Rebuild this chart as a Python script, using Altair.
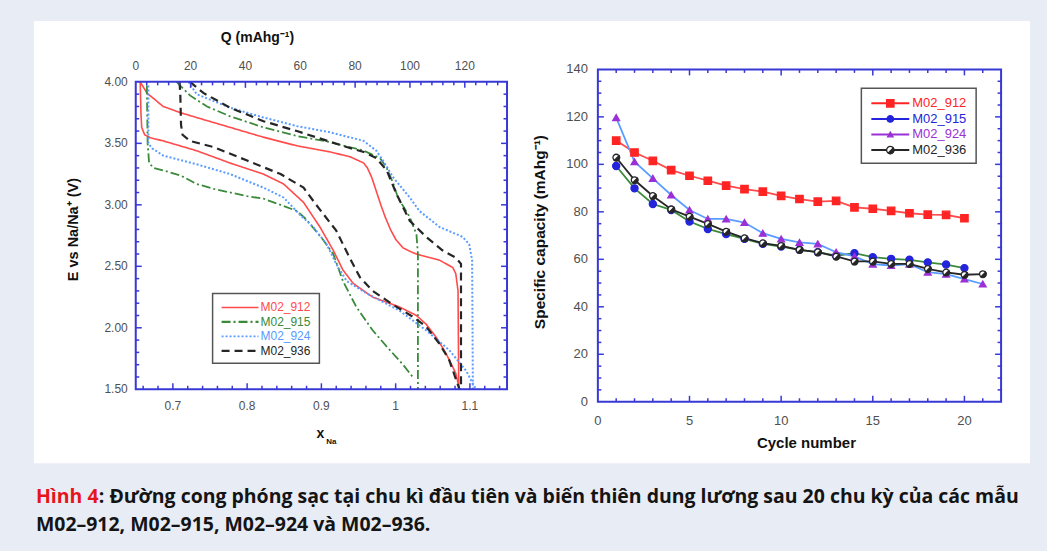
import altair as alt
import pandas as pd

# ---------------- data ----------------
names = ["M02_912", "M02_915", "M02_924", "M02_936"]

# Left panel: E (V) vs x_Na, two branches per sample
x912_up = [0.656, 0.665, 0.687, 0.710, 0.732, 0.777, 0.822, 0.867, 0.912, 0.939, 0.957, 0.962, 0.968, 0.974, 0.980, 0.986, 0.993, 1.000, 1.010, 1.020, 1.028, 1.059, 1.077, 1.081, 1.084, 1.085]
e912_up = [4.00, 3.91, 3.80, 3.75, 3.71, 3.63, 3.55, 3.48, 3.43, 3.39, 3.34, 3.30, 3.22, 3.11, 3.00, 2.90, 2.80, 2.72, 2.65, 2.62, 2.60, 2.55, 2.49, 2.44, 2.30, 1.50]
x912_lo = [0.656, 0.657, 0.658, 0.662, 0.670, 0.687, 0.732, 0.777, 0.822, 0.849, 0.876, 0.898, 0.916, 0.929, 0.943, 0.969, 1.005, 1.028, 1.041, 1.055, 1.068, 1.081, 1.086]
e912_lo = [4.00, 3.75, 3.63, 3.57, 3.545, 3.52, 3.44, 3.34, 3.25, 3.17, 3.02, 2.82, 2.63, 2.47, 2.36, 2.25, 2.17, 2.10, 2.03, 1.92, 1.79, 1.63, 1.50]

x915_up = [0.705, 0.723, 0.746, 0.777, 0.822, 0.867, 0.912, 0.957, 0.979, 0.988, 0.997, 1.003, 1.019, 1.028, 1.030, 1.030]
e915_up = [4.00, 3.89, 3.80, 3.72, 3.63, 3.56, 3.51, 3.44, 3.38, 3.30, 3.17, 3.06, 2.90, 2.76, 2.60, 1.50]
x915_lo = [0.665, 0.666, 0.668, 0.674, 0.687, 0.710, 0.732, 0.755, 0.800, 0.822, 0.845, 0.867, 0.880, 0.903, 0.916, 0.929, 0.947, 0.969, 0.992, 1.010, 1.023]
e915_lo = [3.97, 3.50, 3.34, 3.30, 3.28, 3.24, 3.17, 3.13, 3.07, 3.05, 3.00, 2.95, 2.88, 2.71, 2.60, 2.38, 2.17, 1.98, 1.82, 1.70, 1.60]

x924_up = [0.721, 0.732, 0.777, 0.822, 0.867, 0.912, 0.957, 0.974, 0.983, 0.997, 1.019, 1.032, 1.059, 1.090, 1.099, 1.103, 1.104]
e924_up = [4.00, 3.90, 3.79, 3.71, 3.64, 3.59, 3.52, 3.44, 3.36, 3.22, 3.06, 2.95, 2.82, 2.74, 2.68, 2.55, 1.50]
x924_lo = [0.667, 0.667, 0.672, 0.687, 0.732, 0.777, 0.822, 0.849, 0.871, 0.889, 0.907, 0.920, 0.934, 0.961, 1.005, 1.041, 1.072, 1.095, 1.108]
e924_lo = [3.97, 3.50, 3.46, 3.40, 3.33, 3.25, 3.14, 3.06, 2.92, 2.82, 2.68, 2.52, 2.38, 2.28, 2.14, 1.98, 1.82, 1.65, 1.50]

x936_up = [0.723, 0.741, 0.759, 0.777, 0.822, 0.867, 0.903, 0.934, 0.957, 0.974, 0.988, 1.001, 1.019, 1.041, 1.063, 1.081, 1.088, 1.088]
e936_up = [4.00, 3.91, 3.85, 3.79, 3.68, 3.60, 3.53, 3.47, 3.43, 3.38, 3.28, 3.09, 2.87, 2.74, 2.63, 2.57, 2.52, 1.50]
x936_lo = [0.709, 0.710, 0.711, 0.713, 0.723, 0.755, 0.800, 0.845, 0.876, 0.893, 0.920, 0.938, 0.952, 0.969, 0.996, 1.023, 1.041, 1.059, 1.072, 1.086]
e936_lo = [4.00, 3.90, 3.65, 3.57, 3.52, 3.47, 3.36, 3.25, 3.14, 3.00, 2.79, 2.57, 2.41, 2.30, 2.19, 2.09, 2.01, 1.87, 1.74, 1.50]

xna_labels = [0.7, 0.8, 0.9, 1.0, 1.1]
e_labels = [1.5, 2.0, 2.5, 3.0, 3.5, 4.0]
q_labels = [0, 20, 40, 60, 80, 100, 120]

# Right panel: specific capacity vs cycle
cycles = [1, 2, 3, 4, 5, 6, 7, 8, 9, 10, 11, 12, 13, 14, 15, 16, 17, 18, 19, 20, 21]
cap_912 = [110.0, 105.0, 101.5, 97.6, 95.2, 93.1, 91.0, 89.6, 88.5, 86.7, 85.4, 84.3, 84.6, 81.9, 81.3, 80.4, 79.4, 78.8, 78.7, 77.3]
cap_915 = [99.3, 89.9, 83.3, 80.8, 75.9, 72.8, 70.6, 68.6, 66.5, 65.4, 64.0, 63.0, 61.5, 62.6, 60.9, 60.2, 59.8, 58.7, 57.8, 56.3]
cap_924 = [119.7, 101.1, 94.1, 87.1, 80.8, 77.0, 77.0, 75.5, 71.0, 68.6, 67.1, 66.5, 63.0, 61.2, 58.0, 57.4, 58.0, 54.6, 53.8, 51.7, 49.6]
cap_936 = [102.9, 93.4, 86.7, 81.1, 78.0, 74.9, 71.7, 68.9, 66.8, 65.7, 64.0, 63.0, 61.2, 59.1, 59.1, 58.1, 58.1, 56.0, 54.5, 53.5, 53.8]
cycle_labels = [0, 5, 10, 15, 20]
cap_labels = [0, 20, 40, 60, 80, 100, 120, 140]

caption_red = "Hình 4"
caption_line1 = ": Đường cong phóng sạc tại chu kì đầu tiên và biến thiên dung lương sau 20 chu kỳ của các mẫu"
caption_line2 = "M02–912, M02–915, M02–924 và M02–936."

# ---------------- tables ----------------
branches = {
    "M02_912": [(x912_up, e912_up), (x912_lo, e912_lo)],
    "M02_915": [(x915_up, e915_up), (x915_lo, e915_lo)],
    "M02_924": [(x924_up, e924_up), (x924_lo, e924_lo)],
    "M02_936": [(x936_up, e936_up), (x936_lo, e936_lo)],
}
rows = []
for nm in names:
    for bi, (xs, es) in enumerate(branches[nm]):
        for i, (xv, ev) in enumerate(zip(xs, es)):
            rows.append({"sample": nm, "branch": f"{nm}_{bi}", "idx": i, "x": xv, "E": ev})
df_curves = pd.DataFrame(rows)

caps = {"M02_912": cap_912, "M02_915": cap_915, "M02_924": cap_924, "M02_936": cap_936}
rrows = []
for nm in names:
    for c, v in zip(cycles, caps[nm]):
        rrows.append({"sample": nm, "cycle": c, "cap": v})
df_cap = pd.DataFrame(rrows)

# ---------------- styling ----------------
PAGE_BG = "#e8ecf5"
FRAME = "#3838d6"
LBL = "#505050"
FONT = "Liberation Sans"
X0, Q_PER_X = 0.65, 270.8

W1, H1 = 372, 308
W2, H2 = 404, 333
SPACING = 91
OX, OY = 135, 81          # page position of the left frame
PW, PH = 1047, 551

left_cols = ["#ff4b4b", "#3a8a3a", "#5a9cff", "#262626"]
left_dash = [[1, 0], [9, 3, 2, 3], [2, 2], [8, 5]]
left_w = [1.6, 2.2, 1.6, 2.2]
right_cols = ["#ff2424", "#2424dc", "#9b30d6", "#262626"]
right_fill = ["#ff2424", "#2424dc", "#9b30d6", "#ffffff"]
right_shape = ["square", "circle", "triangle-up", "circle"]
right_size = [55, 42, 30, 55]

one = pd.DataFrame({"k": [0]})


def seq(a, b, step):
    out, v = [], a
    while v <= b + 1e-9:
        out.append(round(v, 6))
        v += step
    return out


def xticks(vals, scale, y0, y1):
    return alt.Chart(pd.DataFrame({"v": vals})).mark_rule(color=FRAME, strokeWidth=1.5).encode(
        x=alt.X("v:Q", scale=scale, axis=None), y=alt.value(y0), y2=alt.value(y1))


def yticks(vals, scale, x0, x1):
    return alt.Chart(pd.DataFrame({"v": vals})).mark_rule(color=FRAME, strokeWidth=1.5).encode(
        y=alt.Y("v:Q", scale=scale, axis=None), x=alt.value(x0), x2=alt.value(x1))


def xlabels(vals, scale, y, fmt, size):
    return alt.Chart(pd.DataFrame({"v": vals})).mark_text(
        fontSize=size, color=LBL, font=FONT, baseline="middle", align="center").encode(
        x=alt.X("v:Q", scale=scale, axis=None), y=alt.value(y), text=alt.Text("v:Q", format=fmt))


def ylabels(vals, scale, x, fmt, size):
    return alt.Chart(pd.DataFrame({"v": vals})).mark_text(
        fontSize=size, color=LBL, font=FONT, baseline="middle", align="right").encode(
        y=alt.Y("v:Q", scale=scale, axis=None), x=alt.value(x), text=alt.Text("v:Q", format=fmt))


def frame(w, h):
    return alt.Chart(one).mark_rect(fillOpacity=0, stroke=FRAME, strokeWidth=2).encode(
        x=alt.value(0), x2=alt.value(w), y=alt.value(0), y2=alt.value(h))


def txt(s, x, y, size=12, color="#111", weight="normal", align="left", angle=0, font=FONT):
    kw = dict(text=s, fontSize=size, color=color, fontWeight=weight, align=align,
              baseline="middle", font=font)
    if angle:
        kw["angle"] = angle
    return alt.Chart(one).mark_text(**kw).encode(x=alt.value(x), y=alt.value(y))


MAJ, MIN = 6, 3.5

# ---------------- left panel ----------------
xsL = alt.Scale(domain=[0.65, 1.15], nice=False, zero=False)
ysL = alt.Scale(domain=[1.5, 4.0], nice=False, zero=False)

bg = alt.Chart(one).mark_rect(fill=PAGE_BG).encode(
    x=alt.value(-OX), x2=alt.value(PW - OX), y=alt.value(-OY), y2=alt.value(PH - OY))
panel = alt.Chart(one).mark_rect(fill="white").encode(
    x=alt.value(33 - OX), x2=alt.value(1031 - OX), y=alt.value(20 - OY), y2=alt.value(463 - OY))

curves = alt.Chart(df_curves).mark_line().encode(
    x=alt.X("x:Q", scale=xsL, axis=None),
    y=alt.Y("E:Q", scale=ysL, axis=None),
    color=alt.Color("sample:N", scale=alt.Scale(domain=names, range=left_cols), legend=None),
    strokeDash=alt.StrokeDash("sample:N", scale=alt.Scale(domain=names, range=left_dash), legend=None),
    strokeWidth=alt.StrokeWidth("sample:N", scale=alt.Scale(domain=names, range=left_w), legend=None),
    detail="branch:N",
    order="idx:Q",
)

x_major = [v for v in xna_labels]
x_minor = [v for v in seq(0.66, 1.14, 0.02) if abs(round(v * 10) - v * 10) > 1e-6]
e_major = [v for v in seq(2.0, 3.5, 0.5)]
e_minor = [v for v in seq(1.6, 3.9, 0.1) if abs(round(v * 2) - v * 2) > 1e-6]
q_major = [20, 40, 60, 80, 100, 120]
q_minor = [v for v in range(4, 136, 4) if v % 20 != 0]


def qticks(vals, y0, y1):
    return alt.Chart(pd.DataFrame({"q": vals})).transform_calculate(
        xq=f"{X0} + datum.q / {Q_PER_X}").mark_rule(color=FRAME, strokeWidth=1.5).encode(
        x=alt.X("xq:Q", scale=xsL, axis=None), y=alt.value(y0), y2=alt.value(y1))


q_text = alt.Chart(pd.DataFrame({"q": q_labels})).transform_calculate(
    xq=f"{X0} + datum.q / {Q_PER_X}").mark_text(fontSize=12, color=LBL, font=FONT, baseline="middle").encode(
    x=alt.X("xq:Q", scale=xsL, axis=None), y=alt.value(-16), text=alt.Text("q:Q"))

left_layers = [
    bg, panel, curves,
    xticks(x_major, xsL, H1, H1 - MAJ), xticks(x_minor, xsL, H1, H1 - MIN),
    qticks(q_major, 0, MAJ), qticks(q_minor, 0, MIN),
    yticks(e_major, ysL, 0, MAJ), yticks(e_minor, ysL, 0, MIN),
    yticks(e_major, ysL, W1, W1 - MAJ), yticks(e_minor, ysL, W1, W1 - MIN),
    frame(W1, H1),
    q_text,
    xlabels(xna_labels, xsL, H1 + 17, "~g", 12),
    ylabels(e_labels, ysL, -8, ".2f", 12),
    txt("Q (mAhg⁻¹)", 122, -44, size=14, weight="bold", align="center"),
    txt("E vs Na/Na⁺ (V)", -62, 148, size=14.5, weight="bold", align="center", angle=270),
    txt("x", 185, 353, size=14, weight="bold", align="center"),
    txt("Na", 196, 361, size=8, weight="bold", align="center"),
]

# left legend
lg_x0, lg_y0, lg_x1, lg_y1 = 77, 212, 184, 282
left_layers.append(alt.Chart(one).mark_rect(fill="white", stroke="#555555", strokeWidth=1.5).encode(
    x=alt.value(lg_x0), x2=alt.value(lg_x1), y=alt.value(lg_y0), y2=alt.value(lg_y1)))
for i, nm in enumerate(names):
    yy = 226 + i * 14.5
    left_layers.append(alt.Chart(one).mark_rule(color=left_cols[i], strokeDash=left_dash[i],
                                                strokeWidth=left_w[i]).encode(
        x=alt.value(86), x2=alt.value(123), y=alt.value(yy)))
    left_layers.append(txt(nm, 125, yy, size=12, color=left_cols[i]))

# caption (page coordinates relative to the left frame)
CAP = 19.5
left_layers.append(txt(caption_red, 35 - OX, 497 - OY, size=CAP, color="#e8141b", weight="bold", font="Open Sans"))
left_layers.append(txt(caption_line1, 98 - OX, 497 - OY, size=CAP, color="#141414", weight="bold", font="Open Sans"))
left_layers.append(txt(caption_line2, 35 - OX, 525 - OY, size=CAP, color="#141414", weight="bold", font="Open Sans"))

left = alt.layer(*left_layers).properties(width=W1, height=H1)

# ---------------- right panel ----------------
xsR = alt.Scale(domain=[0, 22], nice=False, zero=False)
ysR = alt.Scale(domain=[0, 140], nice=False, zero=False)

r_lines = alt.Chart(df_cap).mark_line(strokeWidth=1.8).encode(
    x=alt.X("cycle:Q", scale=xsR, axis=None),
    y=alt.Y("cap:Q", scale=ysR, axis=None),
    color=alt.Color("sample:N", scale=alt.Scale(domain=names, range=right_cols), legend=None),
    detail="sample:N",
)
r_points = alt.Chart(df_cap).mark_point(opacity=1, strokeWidth=1.3).encode(
    x=alt.X("cycle:Q", scale=xsR, axis=None),
    y=alt.Y("cap:Q", scale=ysR, axis=None),
    shape=alt.Shape("sample:N", scale=alt.Scale(domain=names, range=right_shape), legend=None),
    fill=alt.Fill("sample:N", scale=alt.Scale(domain=names, range=right_fill), legend=None),
    stroke=alt.Stroke("sample:N", scale=alt.Scale(domain=names, range=right_cols), legend=None),
    size=alt.Size("sample:N", scale=alt.Scale(domain=names, range=right_size), legend=None),
)
HALF = "M-0.7071,0.7071 A1,1 0 0,0 0.7071,-0.7071 Z"
r_half = alt.Chart(df_cap).transform_filter(alt.datum.sample == "M02_936").mark_point(
    shape=HALF, filled=True, color="#262626", opacity=1, size=70).encode(
    x=alt.X("cycle:Q", scale=xsR, axis=None), y=alt.Y("cap:Q", scale=ysR, axis=None))

c_major = [5, 10, 15, 20]
c_minor = [v for v in range(1, 22) if v % 5 != 0]
p_major = [20, 40, 60, 80, 100, 120]
p_minor = [v for v in range(5, 140, 5) if v % 20 != 0]

right_layers = [
    r_lines, r_points, r_half,
    xticks(c_major, xsR, H2, H2 - MAJ), xticks(c_minor, xsR, H2, H2 - MIN),
    xticks(c_major, xsR, 0, MAJ), xticks(c_minor, xsR, 0, MIN),
    yticks(p_major, ysR, 0, MAJ), yticks(p_minor, ysR, 0, MIN),
    yticks(p_major, ysR, W2, W2 - MAJ), yticks(p_minor, ysR, W2, W2 - MIN),
    frame(W2, H2),
    xlabels(cycle_labels, xsR, H2 + 19, "d", 13),
    ylabels(cap_labels, ysR, -10, "d", 13),
    txt("Cycle number", 209, H2 + 41, size=15, weight="bold", align="center"),
    txt("Specific capacity (mAhg⁻¹)", -58, 163, size=15.5, weight="bold", align="center", angle=270),
]
rg_x0, rg_y0, rg_x1, rg_y1 = 264, 19, 379, 94
right_layers.append(alt.Chart(one).mark_rect(fill="white", stroke="#555555", strokeWidth=1.5).encode(
    x=alt.value(rg_x0), x2=alt.value(rg_x1), y=alt.value(rg_y0), y2=alt.value(rg_y1)))
for i, nm in enumerate(names):
    yy = 34 + i * 15.6
    right_layers.append(alt.Chart(one).mark_rule(color=right_cols[i], strokeWidth=2).encode(
        x=alt.value(274), x2=alt.value(312), y=alt.value(yy)))
    right_layers.append(alt.Chart(one).mark_point(shape=right_shape[i], fill=right_fill[i], stroke=right_cols[i],
                                                  strokeWidth=1.3, size=right_size[i], opacity=1).encode(
        x=alt.value(293), y=alt.value(yy)))
    if nm == "M02_936":
        right_layers.append(alt.Chart(one).mark_point(shape=HALF, filled=True, color="#262626",
                                                      opacity=1, size=70).encode(
            x=alt.value(293), y=alt.value(yy)))
    right_layers.append(txt(nm, 315, yy, size=13, color=right_cols[i]))

right = alt.layer(*right_layers).properties(width=W2, height=H2)

chart = alt.hconcat(left, right, spacing=SPACING, center=True, bounds="flush").properties(
    padding=0, background=PAGE_BG
).configure_view(stroke="transparent")

chart.save("out.html", embed_options={"renderer": "svg", "actions": False})
